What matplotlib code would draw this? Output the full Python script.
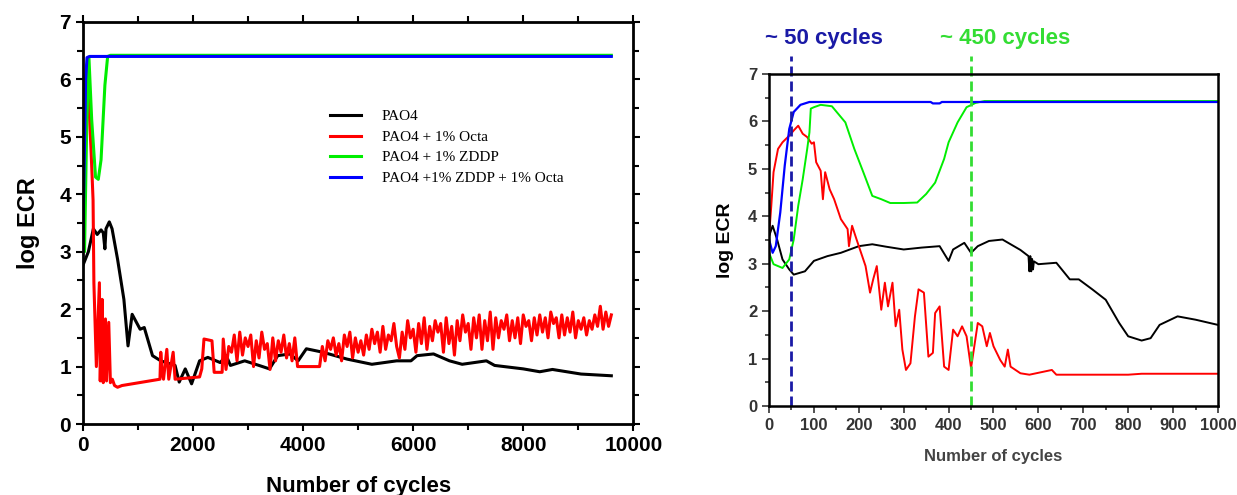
import matplotlib.pyplot as plt
from matplotlib.ticker import MultipleLocator

# ---- left panel: full test (0-9600 cycles) ----
left_black_x = [0, 100, 190, 260, 330, 370, 400, 420, 480, 530, 630, 745, 820, 895, 1040, 1115, 1265,
                1415, 1675, 1750, 1860, 1975, 2120, 2270, 2495, 2605, 2680, 2940, 3200, 3390, 3540,
                3760, 3910, 4060, 4360, 4800, 5250, 5700, 5960, 6070, 6370, 6660, 6890, 7330, 7480,
                8000, 8300, 8530, 9050, 9600]
left_black_y = [2.76, 3.0, 3.40, 3.30, 3.38, 3.33, 3.05, 3.40, 3.52, 3.40, 2.87, 2.17, 1.36, 1.91, 1.65,
                1.68, 1.19, 1.10, 1.02, 0.73, 0.96, 0.70, 1.10, 1.16, 1.07, 1.19, 1.02, 1.10, 1.02,
                0.96, 1.19, 1.22, 1.10, 1.31, 1.25, 1.13, 1.04, 1.10, 1.10, 1.19, 1.22, 1.10, 1.04,
                1.10, 1.02, 0.96, 0.91, 0.95, 0.87, 0.84]

left_red_head_x = [0, 40, 75, 110, 150, 185, 200, 245, 300, 315, 350, 370, 410, 430, 470, 500, 535, 575,
                   630, 710, 1400, 1415, 1440, 1465, 1525, 1560, 1640, 1675, 2120, 2160, 2200, 2345,
                   2385, 2530]
left_red_head_y = [3.6, 5.5, 5.9, 5.57, 4.73, 3.9, 2.46, 1.0, 2.46, 0.75, 2.17, 0.72, 1.83, 0.75, 1.77,
                   0.72, 0.78, 0.67, 0.64, 0.67, 0.78, 1.25, 0.9, 0.78, 1.3, 0.78, 1.25, 0.78, 0.82,
                   0.96, 1.48, 1.45, 0.90, 0.90]
left_red_a_y = [1.48, 0.95, 1.35, 1.25, 1.55, 1.1, 1.6, 1.2, 1.5, 1.35,
                1.55, 1.0, 1.45, 1.15, 1.6, 1.3, 1.4, 0.95, 1.5, 1.1,
                1.45, 1.25, 1.55, 1.15, 1.4, 1.1, 1.5]           # 2550..3850 step 50
left_red_flat_x = [3900, 4300]
left_red_flat_y = [1.0, 1.0]
left_red_b_y = [1.35, 1.1, 1.45, 1.3, 1.5, 1.2, 1.4, 1.1, 1.55, 1.35,
                1.6, 1.15, 1.5, 1.25, 1.45, 1.2, 1.55, 1.3, 1.65, 1.4,
                1.6, 1.25, 1.7, 1.3, 1.55, 1.45, 1.75, 1.35, 1.15, 1.6,
                1.3, 1.8, 1.5, 1.65, 1.25, 1.75, 1.4, 1.85, 1.3, 1.7,
                1.45, 1.8, 1.6, 1.75, 1.25, 1.85, 1.4, 1.7, 1.2, 1.8,
                1.45, 1.9, 1.6, 1.75, 1.3, 1.85, 1.5, 1.9, 1.3, 1.8,
                1.45, 1.95, 1.3, 1.85, 1.5, 1.8, 1.65, 1.9, 1.45, 1.8,
                1.5, 1.85, 1.4, 1.9, 1.7, 1.8, 1.45, 1.85, 1.55, 1.9,
                1.6, 1.85, 1.5, 1.95, 1.75, 1.85, 1.5, 1.9, 1.55, 1.85,
                1.6, 1.95, 1.5, 1.8, 1.65, 1.85, 1.55, 1.8, 1.65, 1.9,
                1.7, 2.05, 1.65, 1.95, 1.7, 1.9]                 # 4350..9600 step 50

left_green_x = [0, 30, 70, 110, 160, 230, 280, 330, 400, 450, 500, 9600]
left_green_y = [3.2, 3.0, 5.2, 6.38, 5.3, 4.3, 4.26, 4.6, 5.9, 6.4, 6.42, 6.42]
left_blue_x = [0, 25, 50, 75, 120, 9600]
left_blue_y = [3.2, 4.6, 6.0, 6.38, 6.40, 6.40]

# ---- right panel: first 1000 cycles ----
right_black_x = [0, 8, 18, 30, 45, 55, 80, 100, 130, 160, 200, 230, 260, 300, 340, 380, 400, 410,
                 435, 450, 465, 490, 520, 560, 578, 580, 582, 584, 586, 588, 590, 600, 640, 670, 690,
                 720, 750, 780, 800, 830, 850, 870, 910, 950, 1000]
right_black_y = [3.58, 3.80, 3.51, 3.09, 2.88, 2.77, 2.84, 3.06, 3.16, 3.23, 3.37, 3.41, 3.36, 3.30,
                 3.34, 3.37, 3.06, 3.30, 3.44, 3.23, 3.37, 3.48, 3.51, 3.29, 3.16, 2.84, 3.16, 2.84,
                 3.10, 2.88, 3.05, 2.99, 3.02, 2.67, 2.67, 2.46, 2.24, 1.75, 1.47, 1.38, 1.43, 1.71,
                 1.89, 1.82, 1.71]
right_red_x = [0, 5, 10, 20, 30, 45, 55, 65, 75, 85, 95, 100, 105, 115, 120, 125, 135, 145, 160, 175,
               178, 185, 195, 205, 215, 225, 232, 240, 250, 258, 265, 275, 282, 290, 297, 305, 315,
               325, 333, 345, 355, 365, 370, 380, 390, 400, 410, 420, 430, 440, 450, 465, 475, 485,
               492, 500, 515, 525, 532, 538, 560, 580, 630, 640, 800, 830, 1000]
right_red_y = [3.58, 4.22, 4.93, 5.42, 5.56, 5.70, 5.81, 5.91, 5.74, 5.67, 5.53, 5.56, 5.14, 4.96,
               4.36, 4.93, 4.57, 4.36, 3.94, 3.73, 3.37, 3.80, 3.51, 3.23, 2.95, 2.39, 2.67, 2.95,
               2.03, 2.60, 2.10, 2.60, 1.68, 2.03, 1.19, 0.76, 0.90, 1.89, 2.46, 2.39, 1.04, 1.12,
               1.96, 2.10, 0.83, 0.76, 1.61, 1.47, 1.68, 1.47, 0.80, 1.75, 1.68, 1.26, 1.54, 1.26,
               0.97, 0.83, 1.19, 0.83, 0.69, 0.66, 0.76, 0.66, 0.66, 0.68, 0.68]
right_green_x = [0, 10, 30, 45, 55, 65, 75, 85, 90, 93, 100, 115, 140, 170, 190, 210, 230, 250, 270,
                 300, 330, 350, 370, 390, 400, 420, 440, 460, 480, 1000]
right_green_y = [3.23, 2.99, 2.91, 3.09, 3.51, 4.22, 4.78, 5.42, 5.77, 6.27, 6.30, 6.35, 6.32, 5.98,
                 5.42, 4.93, 4.43, 4.36, 4.28, 4.28, 4.29, 4.47, 4.71, 5.21, 5.56, 5.98, 6.30, 6.39,
                 6.43, 6.43]
right_blue_x = [0, 8, 15, 25, 35, 45, 55, 70, 90, 360, 365, 380, 385, 1000]
right_blue_y = [3.51, 3.23, 3.37, 4.08, 5.07, 5.84, 6.20, 6.35, 6.41, 6.41, 6.38, 6.38, 6.41, 6.41]

onset_cycles = [50, 450]
onset_labels = ['~ 50 cycles', '~ 450 cycles']
onset_colors = ['#1a1aa6', '#33dd33']

labels = ['PAO4', 'PAO4 + 1% Octa', 'PAO4 + 1% ZDDP', 'PAO4 +1% ZDDP + 1% Octa']
colors = ['black', '#ff0000', '#00ee00', '#0000ff']

left_red_x = (left_red_head_x + list(range(2550, 3851, 50)) + left_red_flat_x
              + list(range(4350, 9601, 50)))
left_red_y = left_red_head_y + left_red_a_y + left_red_flat_y + left_red_b_y

plt.rcParams['font.family'] = 'Liberation Sans'
fig = plt.figure(figsize=(12.37, 4.95), dpi=100)

# left axes
ax1 = fig.add_axes([0.067, 0.1434, 0.445, 0.8122])
ax1.plot(left_black_x, left_black_y, color=colors[0], lw=2.2, label=labels[0])
ax1.plot(left_red_x, left_red_y, color=colors[1], lw=2.2, label=labels[1])
ax1.plot(left_green_x, left_green_y, color=colors[2], lw=2.2, label=labels[2])
ax1.plot(left_blue_x, left_blue_y, color=colors[3], lw=2.2, label=labels[3])
ax1.set_xlim(0, 10000)
ax1.set_ylim(0, 7)
ax1.xaxis.set_major_locator(MultipleLocator(2000))
ax1.xaxis.set_minor_locator(MultipleLocator(1000))
ax1.yaxis.set_major_locator(MultipleLocator(1))
ax1.yaxis.set_minor_locator(MultipleLocator(0.5))
ax1.tick_params(which='both', direction='out', top=True, right=True, width=1.5)
ax1.tick_params(which='major', length=5, labelsize=15)
ax1.tick_params(which='minor', length=4)
for t in ax1.get_xticklabels() + ax1.get_yticklabels():
    t.set_fontweight('bold')
for s in ax1.spines.values():
    s.set_linewidth(2)
ax1.set_xlabel('Number of cycles', fontsize=16, fontweight='bold', labelpad=15)
ax1.set_ylabel('log ECR', fontsize=17, fontweight='bold', labelpad=14)
ax1.legend(loc='upper left', bbox_to_anchor=(0.449, 0.782), frameon=False,
           prop={'family': 'Liberation Serif', 'size': 11}, handlelength=2.0,
           handletextpad=1.4, labelspacing=0.45, borderpad=0, borderaxespad=0)

# right axes
ax2 = fig.add_axes([0.6217, 0.1798, 0.3629, 0.6707])
ax2.plot(right_black_x, right_black_y, color=colors[0], lw=1.4)
ax2.plot(right_red_x, right_red_y, color=colors[1], lw=1.4)
ax2.plot(right_green_x, right_green_y, color=colors[2], lw=1.4)
ax2.plot(right_blue_x, right_blue_y, color=colors[3], lw=1.6)
for xc, lab, col in zip(onset_cycles, onset_labels, onset_colors):
    ax2.plot([xc, xc], [0, 7.38], color=col, lw=2, ls=(0, (3.6, 1.8)), clip_on=False)
ax2.text(-10, 7.75, onset_labels[0], color=onset_colors[0], fontsize=16,
         fontweight='bold', ha='left', va='center')
ax2.text(380, 7.75, onset_labels[1], color=onset_colors[1], fontsize=16,
         fontweight='bold', ha='left', va='center')
ax2.set_xlim(0, 1000)
ax2.set_ylim(0, 7)
ax2.xaxis.set_major_locator(MultipleLocator(100))
ax2.xaxis.set_minor_locator(MultipleLocator(50))
ax2.yaxis.set_major_locator(MultipleLocator(1))
ax2.yaxis.set_minor_locator(MultipleLocator(0.5))
ax2.tick_params(which='both', direction='out', width=1.2, colors='#333333')
ax2.tick_params(which='major', length=5, labelsize=12)
ax2.tick_params(which='minor', length=3)
for t in ax2.get_xticklabels() + ax2.get_yticklabels():
    t.set_fontweight('bold')
for s in ax2.spines.values():
    s.set_linewidth(1.8)
ax2.set_xlabel('Number of cycles', fontsize=12, fontweight='bold', color='#444444', labelpad=12)
ax2.set_ylabel('log ECR', fontsize=14, fontweight='bold', labelpad=10)

plt.savefig('out.png', dpi=100)
